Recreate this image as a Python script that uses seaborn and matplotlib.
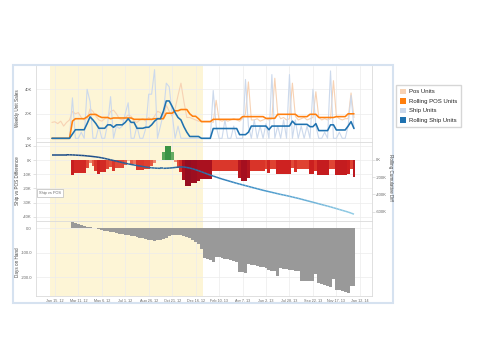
import numpy as np
import pandas as pd
import matplotlib
matplotlib.use("Agg")
import matplotlib.pyplot as plt
import matplotlib.dates as mdates
from matplotlib.collections import LineCollection
from matplotlib.colors import LinearSegmentedColormap, TwoSlopeNorm, Normalize
from matplotlib.patches import Rectangle, Patch
import seaborn as sns

WEEK_START = "2012-01-08"

# weekly values, thousands of units
pos_units = [
    13, 13.5, 12, 14, 10, 13, 15,
    22, 20, 21, 17, 15, 16,
    24, 22, 18, 15, 14, 16, 17, 22,
    23, 20, 16, 15, 17, 19, 18, 14, 13, 15,
    16, 14, 17, 15, 18, 22, 21, 16,
    27, 22, 18, 24, 35, 45,
    30, 17, 17, 16, 15, 14,
    14, 14, 14, 14, 13, 31,
    15, 14, 15, 14, 15, 16, 15, 14, 16,
    20, 46,
    15, 15, 16, 14, 15, 16, 15, 16,
    49,
    20, 16, 17, 15, 16,
    45,
    18, 15, 16, 17, 15, 16, 17,
    38,
    17, 15, 16, 15, 16,
    47,
    18, 16, 15, 16,
    16, 37, 17,
]

ship_units = [
    0, 0, 0, 0, 0, 0, 0,
    33, 0, 0, 5, 0, 40,
    30, 0, 0, 10, 0, 0, 12, 34,
    0, 10, 8, 10, 20, 29, 0, 0, 10, 0,
    0, 8, 36, 36, 56, 0, 10, 20,
    45, 42, 20, 0, 10, 0,
    0, 0, 0, 0, 0, 0,
    0, 0, 0, 0, 39, 10,
    0, 0, 15, 0, 0, 10, 0, 0, 0,
    48, 10,
    0, 15, 0, 10, 0, 12, 0, 52,
    0,
    10, 0, 15, 0, 52,
    0,
    15, 0, 10, 0, 10, 0, 40,
    10,
    0, 0, 5, 0, 55,
    0,
    0, 5, 0, 0,
    10, 35, 8,
]

rolling_pos = [
    0, 0, 0, 0, 0, 0, 0, 14, 16, 16, 16, 16, 17.5, 19.5, 19.5, 19.5,
    18, 17, 17, 17, 16, 16.6, 16.6, 16.6, 16.6, 16.6, 16.6, 16.6,
    15.5, 15.5, 15.5, 15.5, 15.5, 15.5, 15.5, 16, 16, 16, 16,
    20.5, 20.5, 20.5, 22.5, 22.5, 23.5, 23.5, 23.5, 20, 18, 18, 16,
    13.6, 13.6, 13.6, 13.6,
    15.5, 15.5, 15.5, 15.5, 15.5, 15.5, 15.5, 15.5, 15.5, 15.5,
    17.7, 17.7, 17.7, 17.7, 17.7, 17.7, 17.7, 17.7,
    16.3, 16.3, 16.3, 16.3,
    19.6, 19.6, 19.6, 19.6, 19.6, 19.6, 19.6,
    17.7, 17.7, 17.7, 17.7, 19.6, 19.6, 19.6,
    17, 17, 17, 17, 17, 17, 17.7, 17.7, 17.7, 17.7, 20, 20, 20,
]

rolling_ship = [
    0, 0, 0, 0, 0, 0, 0, 3.5, 7, 7, 7, 7, 12, 17.5, 15, 12,
    8.2, 8.2, 8.2, 11, 11, 9, 11, 11, 11, 13, 16, 13, 13,
    8.2, 8.2, 8.2, 9, 9, 11, 14, 16, 16, 22, 30.5, 30.5, 26, 21, 17, 15,
    9.5, 5, 1.5, 1.5, 1.5, 1.5, 0, 0, 0, 0,
    8, 8, 8, 8, 8, 8, 8, 8, 8, 3, 3, 3, 5,
    10, 10, 10, 10, 10, 10, 7, 10, 10, 10, 10, 10, 10, 10, 14,
    11.4, 11.4, 11.4, 11.4, 11.4, 9.5, 9.5, 12, 6.3, 6.3, 6.3, 6.3,
    11, 11, 6.8, 6.8, 6.8, 6.8, 10, 13.6, 8,
]

# rolling cumulative difference, thousands (right axis)
cum_diff = [
    61, 61, 61, 61, 61, 61, 60, 59,
    57, 55, 53, 51, 47, 44, 40, 36,
    31, 25, 18, 10, 2, -6, -14, -22,
    -30, -38, -45, -52, -58, -64, -70, -76,
    -82, -87, -91, -94, -96, -97, -97, -96,
    -94, -91, -87, -83, -80, -82, -87, -94,
    -103, -113, -125, -137, -150, -163, -175, -187,
    -198, -210, -221, -231, -241, -251, -261, -271,
    -280, -289, -298, -307, -316, -325, -334, -343,
    -352, -360, -368, -376, -384, -392, -400, -407,
    -414, -422, -430, -438, -446, -455, -464, -473,
    -482, -491, -500, -509, -518, -527, -536, -545,
    -555, -565, -575, -585, -595, -605, -617, -630,
]

days_on_hand = [
    0, 0, 0, 0, 0, 0, 0,
    24, 20, 17, 13, 10, 7, 4, 2, 0, -3,
    -8, -10, -12, -14, -16, -19, -22,
    -24, -26, -28, -30, -32, -35, -38, -40,
    -43, -46, -48, -50, -49, -46, -43, -38,
    -32, -27, -26, -26, -27, -30, -36, -41,
    -48, -55, -65, -85, -120, -125, -129, -139,
    -115, -118, -121, -124, -127, -130, -133, -136,
    -178, -180, -182, -145, -148, -150, -153, -156,
    -158, -160, -168, -172, -176, -194, -163, -165,
    -167, -169, -171, -173, -174, -213, -214, -215,
    -216, -216, -185, -222, -226, -230, -235, -240,
    -207, -250, -253, -256, -260, -264, -236, -236,
]

tick_labels = ["Jan 15, 12", "Mar 11, 12", "May 6, 12", "Jul 1, 12", "Aug 26, 12",
               "Oct 21, 12", "Dec 16, 12", "Feb 10, 13", "Apr 7, 13", "Jun 2, 13",
               "Jul 28, 13", "Sep 22, 13", "Nov 17, 13", "Jan 12, 14"]
series_names = ["Pos Units", "Rolling POS Units", "Ship Units", "Rolling Ship Units"]
series_colors = ["#f7d2b4", "#ff7f0e", "#ccd9ec", "#1f72b0"]

sns.set_theme(style="white")
plt.rcParams["font.family"] = ["Liberation Sans", "DejaVu Sans"]

weeks = pd.date_range(WEEK_START, periods=len(pos_units), freq="7D")
xnum = mdates.date2num(weeks)
df = pd.DataFrame({"x": xnum, "Pos Units": pos_units, "Rolling POS Units": rolling_pos,
                   "Ship Units": ship_units, "Rolling Ship Units": rolling_ship})
diff = np.array(rolling_ship) - np.array(rolling_pos)

tick_x = mdates.date2num(pd.to_datetime(tick_labels, format="%b %d, %y"))
xlim = mdates.date2num(pd.to_datetime(["2011-12-01", "2014-02-10"]))
band = mdates.date2num(pd.to_datetime(["2012-01-04 12:00", "2013-01-03 00:00"]))

fig = plt.figure(figsize=(4.8, 3.6), dpi=100)
L, W = 36 / 480, 336 / 480
ax_top = fig.add_axes([L, 1 - 142 / 360, W, 76 / 360])
ax_mid = fig.add_axes([L, 1 - 221 / 360, W, 79 / 360])
ax_bot = fig.add_axes([L, 1 - 296 / 360, W, 75 / 360])

grey = "#666666"
TICK_FS = 3.0
for ax in (ax_top, ax_mid, ax_bot):
    ax.set_xlim(*xlim)
    ax.axvspan(band[0], band[1], color="#fdf5d6", zorder=0, lw=0)
    ax.set_axisbelow(True)
    ax.grid(True, color="#ececec", lw=0.5)
    ax.set_xticks(tick_x)
    ax.tick_params(axis="both", labelsize=TICK_FS, labelcolor=grey, length=2, width=0.4,
                   color="#cccccc", pad=1)
    for s in ax.spines.values():
        s.set_color("#dadada")
        s.set_linewidth(0.6)

# top: weekly unit sales
for name, col, lw in zip(["Pos Units", "Ship Units", "Rolling POS Units", "Rolling Ship Units"],
                         [series_colors[0], series_colors[2], series_colors[1], series_colors[3]],
                         [0.8, 0.8, 1.15, 1.15]):
    sns.lineplot(data=df, x="x", y=name, ax=ax_top, color=col, lw=lw, legend=False)
ax_top.set_xlim(*xlim)
ax_top.set_ylim(-3, 59)
ax_top.set_yticks([0, 20, 40])
ax_top.set_yticklabels(["0K", "20K", "40K"])
ax_top.set_xticks(tick_x)
ax_top.set_xticklabels([])
ax_top.set_xlabel("")
ax_top.set_ylabel("")
ax_top.spines["top"].set_visible(False)
ax_top.tick_params(axis="x", length=0)

# middle: ship vs pos difference
bar_cmap = LinearSegmentedColormap.from_list("rg", [
    (0.0, "#8f0c22"), (0.15, "#a8101f"), (0.25, "#cc1f1f"), (0.33, "#de3d2e"),
    (0.42, "#e8634a"), (0.48, "#f3a58e"), (0.5, "#e6e6d0"), (0.58, "#b7ce9f"),
    (0.75, "#5aa65a"), (1.0, "#2a8a3a")])
bar_norm = TwoSlopeNorm(vmin=-20, vcenter=0, vmax=12)
ax_mid.bar(xnum, diff, width=7, color=bar_cmap(bar_norm(diff)), lw=0, zorder=2)
ax_mid.set_ylim(-43, 12.7)
ax_mid.set_yticks([10, 0, -10, -20, -30, -40])
ax_mid.set_yticklabels(["10K", "0K", "-10K", "-20K", "-30K", "-40K"])
ax_mid.set_xticklabels([])
ax_mid.tick_params(axis="x", length=0)

ax_r = ax_mid.twinx()
ax_r.set_ylim(-709, 209)
ax_r.set_yticks([0, -200, -400, -600])
ax_r.set_yticklabels(["0K", "-200K", "-400K", "-600K"])
ax_r.tick_params(axis="y", labelsize=TICK_FS, labelcolor=grey, length=2, width=0.4,
                 color="#cccccc", pad=1)
for s in ax_r.spines.values():
    s.set_visible(False)
pts = np.column_stack([xnum, cum_diff])
segs = np.stack([pts[:-1], pts[1:]], axis=1)
line_cmap = LinearSegmentedColormap.from_list("bl", ["#9ad2e8", "#3a8dc5", "#1c4c88"])
lc = LineCollection(segs, cmap=line_cmap, norm=Normalize(-650, 60), lw=1.1, zorder=3)
lc.set_array((np.array(cum_diff[:-1]) + np.array(cum_diff[1:])) / 2)
ax_r.add_collection(lc)

# bottom: days on hand
ax_bot.bar(xnum, days_on_hand, width=7, color="#999999", lw=0, zorder=2)
ax_bot.set_ylim(-276, 30)
ax_bot.set_yticks([0, -100, -200])
ax_bot.set_yticklabels(["0.0", "-100.0", "-200.0"])
ax_bot.set_xticklabels(tick_labels, fontsize=2.7)
ax_bot.tick_params(axis="x", length=0, pad=2)

# axis titles
lab = dict(fontsize=3.3, color="#444444", ha="center", va="center")
fig.text(17 / 480, 1 - 108 / 360, "Weekly Unit Sales", rotation=90, **lab)
fig.text(17 / 480, 1 - 181 / 360, "Ship vs POS Difference", rotation=90, **lab)
fig.text(17 / 480, 1 - 262 / 360, "Days on Hand", rotation=90, **lab)
fig.text(391 / 480, 1 - 177 / 360, "Rolling Cumulative Diff", rotation=270, **lab)

fig.text(50 / 480, 1 - 193 / 360, "Ship vs POS", fontsize=2.8, color=grey, ha="center",
         va="center", bbox=dict(boxstyle="square,pad=0.4", fc="white", ec="#bbbbbb", lw=0.5))

# outer frame
fig.add_artist(Rectangle((13 / 480, 1 - 303 / 360), 380 / 480, 238 / 360,
                         transform=fig.transFigure, fill=False, ec="#d6e2f0", lw=1.5))

handles = [Patch(fc=c, ec="none") for c in series_colors]
fig.legend(handles, series_names, loc="upper left", bbox_to_anchor=(396 / 480, 1 - 85 / 360),
           fontsize=4.3, frameon=True, fancybox=False, edgecolor="#cccccc",
           handlelength=1.1, handleheight=1.1, handletextpad=0.5, labelspacing=0.6,
           borderpad=0.6, borderaxespad=0)

fig.savefig("out.png", dpi=100)
